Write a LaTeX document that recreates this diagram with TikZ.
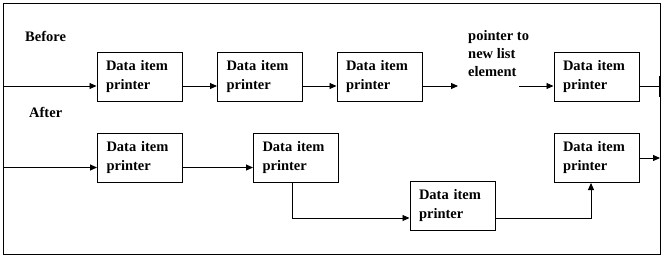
\documentclass[tikz,border=0pt]{standalone}
\usepackage{fontspec}
\setmainfont{Liberation Serif}
\usetikzlibrary{arrows.meta}
\begin{document}
\begin{tikzpicture}[x=1pt,y=-1pt,
  every node/.style={font=\bfseries\fontsize{14.5}{19}\selectfont},
  itembox/.style={draw,line width=1pt,minimum width=85pt,minimum height=49pt,
    text width=67pt,inner xsep=9pt,inner ysep=0pt,align=left},
  conn/.style={line width=0.9pt},
  arr/.style={conn,-{Triangle[length=7pt,width=6pt]}},
  lbl/.style={inner sep=0pt,anchor=west,align=left}]
\useasboundingbox (0,0) rectangle (666,258);
\draw[line width=1pt] (3,3) rectangle (660,254);
% labels
\node[lbl] (before) at (25,36) {Before};
\node[lbl] (after) at (29,112) {After};
% before row
\node[itembox] (b1) at (139.5,76.5) {Data item\\printer};
\node[itembox] (b2) at (260,76.5) {Data item\\printer};
\node[itembox] (b3) at (379.5,76.5) {Data item\\printer};
\node[itembox] (b4) at (596.5,76.5) {Data item\\printer};
\node[lbl,font=\bfseries\fontsize{14.5}{18}\selectfont] (ptr) at (468,54) {pointer to\\new list\\element};
\coordinate (s1) at (3,86);
\coordinate (p1) at (458,86);
\coordinate (p2) at (519,86);
\coordinate (e1) at (660,86);
\draw[arr] (s1) -- ([yshift=-9.5pt]b1.west);
\draw[arr] ([yshift=-9.5pt]b1.east) -- ([yshift=-9.5pt]b2.west);
\draw[arr] ([yshift=-9.5pt]b2.east) -- ([yshift=-9.5pt]b3.west);
\draw[arr] ([yshift=-9.5pt]b3.east) -- (p1);
\draw[arr] (p2) -- ([yshift=-9.5pt]b4.west);
\draw[conn] ([yshift=-9.5pt]b4.east) -- (e1);
\draw[line width=2pt] ([yshift=10pt]e1) -- ([yshift=-11pt]e1);
% after row
\node[itembox] (a1) at (140,158) {Data item\\printer};
\node[itembox] (a2) at (296,158) {Data item\\printer};
\node[itembox] (a3) at (452.5,206) {Data item\\printer};
\node[itembox] (a4) at (596.5,158) {Data item\\printer};
\coordinate (s2) at (3,167.5);
\coordinate (e2) at (660,158);
\draw[arr] (s2) -- ([yshift=-9.5pt]a1.west);
\draw[arr] ([yshift=-9.5pt]a1.east) -- ([yshift=-9.5pt]a2.west);
\draw[arr] ([xshift=-4pt]a2.south) |- ([yshift=-12pt]a3.west);
\draw[arr] ([yshift=-12pt]a3.east) -| ([xshift=-5.5pt]a4.south);
\draw[arr] (a4.east) -- (e2);
\end{tikzpicture}
\end{document}
